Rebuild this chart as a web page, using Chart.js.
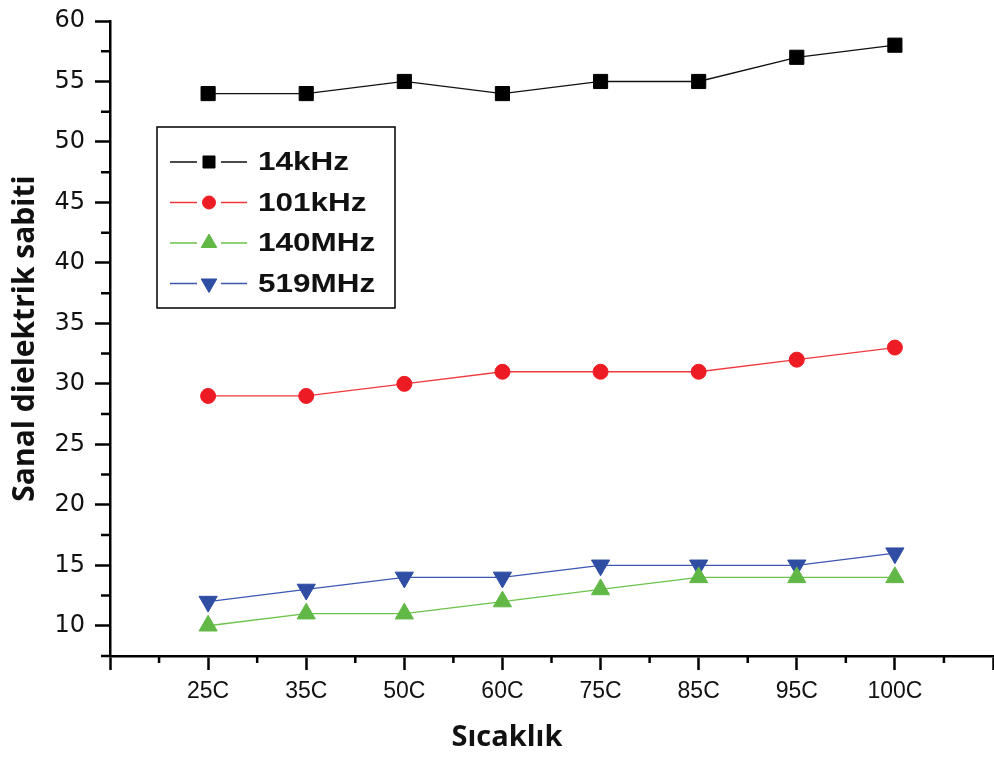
<!DOCTYPE html>
<html>
<head>
<meta charset="utf-8">
<script src="https://cdn.jsdelivr.net/npm/chart.js@4/dist/chart.umd.min.js"></script>
<style>
  html, body { margin: 0; padding: 0; background: #fff; }
  #wrap { width: 994px; height: 758px; position: relative; }
</style>
</head>
<body>
<div id="wrap"><canvas id="chart" width="994" height="758"></canvas></div>
<script>
const categories = ['25C', '35C', '50C', '60C', '75C', '85C', '95C', '100C'];
const seriesNames = ['14kHz', '101kHz', '140MHz', '519MHz'];
const s14kHz = [54, 54, 55, 54, 55, 55, 57, 58];
const s101kHz = [29, 29, 30, 31, 31, 31, 32, 33];
const s140MHz = [10, 11, 11, 12, 13, 14, 14, 14];
const s519MHz = [12, 13, 14, 14, 15, 15, 15, 16];
const yTicks = [10, 15, 20, 25, 30, 35, 40, 45, 50, 55, 60];
const yMin = 7.5, yMax = 60;
const xTitle = 'Sıcaklık';
const yTitle = 'Sanal dielektrik sabiti';

const toPts = arr => arr.map((v, i) => ({ x: i + 1, y: v }));

const styles = [
  { line: '#111111', fill: '#000000', shape: 'rect', r: 10, rot: 0 },
  { line: '#f0393f', fill: '#ed1c24', shape: 'circle', r: 7.5, rot: 0 },
  { line: '#6cc24a', fill: '#62b846', shape: 'triangle', r: 10.5, rot: 0 },
  { line: '#3b57b0', fill: '#2e4da3', shape: 'triangle', r: 10.5, rot: 180 }
];
const seriesData = [s14kHz, s101kHz, s140MHz, s519MHz];

const datasets = seriesData.map((d, i) => ({
  label: seriesNames[i],
  data: toPts(d),
  borderColor: styles[i].line,
  borderWidth: 1.3,
  backgroundColor: styles[i].fill,
  pointBackgroundColor: styles[i].fill,
  pointBorderColor: styles[i].fill,
  pointBorderWidth: 1,
  pointStyle: styles[i].shape,
  pointRadius: styles[i].r,
  pointRotation: styles[i].rot,
  tension: 0
}));

// minor ticks at the half steps
const minorTicks = {
  id: 'minorTicks',
  afterDraw(chart) {
    const { ctx, scales: { x, y }, chartArea } = chart;
    ctx.save();
    ctx.strokeStyle = '#000';
    ctx.lineWidth = 2.5;
    ctx.beginPath();
    for (let v = 0.5; v < categories.length + 1; v += 1) {
      const px = x.getPixelForValue(v);
      ctx.moveTo(px, chartArea.bottom);
      ctx.lineTo(px, chartArea.bottom + 7);
    }
    for (let v = yMin; v < yMax; v += 5) {
      const py = y.getPixelForValue(v);
      ctx.moveTo(chartArea.left, py);
      ctx.lineTo(chartArea.left - 9, py);
    }
    ctx.stroke();
    ctx.restore();
  }
};

// x title sits nearer the page centre than the axis centre
const xTitlePlugin = {
  id: 'xTitle',
  afterDraw(chart) {
    const { ctx, width, height } = chart;
    ctx.save();
    ctx.fillStyle = '#111';
    ctx.font = 'bold 29px "Open Sans", sans-serif';
    ctx.textAlign = 'center';
    ctx.textBaseline = 'middle';
    ctx.fillText(xTitle, width / 2 + 10, height - 20);
    ctx.restore();
  }
};

// boxed legend inside the plot
const boxLegend = {
  id: 'boxLegend',
  afterDraw(chart) {
    const { ctx, chartArea } = chart;
    const left = chartArea.left + 47, top = chartArea.top + 106;
    const w = 238, h = 181, rowH = 40.5;
    ctx.save();
    ctx.strokeStyle = '#000';
    ctx.lineWidth = 1.5;
    ctx.strokeRect(left, top, w, h);
    chart.data.datasets.forEach((ds, i) => {
      const cy = top + 35 + i * rowH;
      ctx.strokeStyle = ds.borderColor;
      ctx.lineWidth = 1.3;
      ctx.beginPath();
      ctx.moveTo(left + 13, cy); ctx.lineTo(left + 40, cy);
      ctx.moveTo(left + 64, cy); ctx.lineTo(left + 90, cy);
      ctx.stroke();
      ctx.fillStyle = ds.pointBackgroundColor;
      ctx.strokeStyle = ds.pointBorderColor;
      ctx.lineWidth = 1;
      Chart.helpers.drawPoint(ctx, {
        pointStyle: ds.pointStyle,
        radius: ds.pointStyle === 'rect' ? 8.5 : (ds.pointStyle === 'circle' ? 6.5 : 9),
        rotation: ds.pointRotation,
        borderWidth: 1
      }, left + 52, cy);
      ctx.save();
      ctx.translate(left + 101, cy);
      ctx.scale(1.21, 1);
      ctx.fillStyle = '#111';
      ctx.font = 'bold 26px "Liberation Sans", Arial, sans-serif';
      ctx.textBaseline = 'middle';
      ctx.fillText(ds.label, 0, 1);
      ctx.restore();
    });
    ctx.restore();
  }
};

new Chart(document.getElementById('chart').getContext('2d'), {
  type: 'line',
  data: { datasets },
  options: {
    responsive: false,
    animation: false,
    layout: { autoPadding: false, padding: { top: 21, right: 1, left: 0, bottom: 0 } },
    plugins: { legend: { display: false }, tooltip: { enabled: false } },
    scales: {
      x: {
        type: 'linear',
        min: 0,
        max: categories.length + 1,
        afterBuildTicks: s => { s.ticks = Array.from({ length: categories.length + 2 }, (_, i) => ({ value: i })); },
        afterFit: s => { s.height = 102; s.paddingLeft = 0; s.paddingRight = 0; },
        ticks: {
          autoSkip: false, maxRotation: 0, padding: 8, color: '#111',
          font: { family: '"Liberation Sans", Arial, sans-serif', size: 23 },
          callback: v => categories[v - 1] || ''
        },
        grid: { drawOnChartArea: false, drawTicks: true, tickLength: 14, tickWidth: 2.5, tickColor: '#000' },
        border: { display: true, color: '#000', width: 2.5 },
        title: { display: false }
      },
      y: {
        min: yMin,
        max: yMax,
        afterBuildTicks: s => { s.ticks = yTicks.map(v => ({ value: v })); },
        afterFit: s => { s.width = 110; s.paddingTop = 0; s.paddingBottom = 0; },
        ticks: {
          padding: 10, color: '#111',
          font: { family: '"DejaVu Sans", sans-serif', size: 24 }
        },
        grid: { drawOnChartArea: false, drawTicks: true, tickLength: 15, tickWidth: 2.5, tickColor: '#000' },
        border: { display: true, color: '#000', width: 2.5 },
        title: {
          display: true, text: yTitle, color: '#111',
          font: { family: '"Open Sans", sans-serif', size: 30, weight: 'bold' },
          padding: { top: 7, bottom: 0 }
        }
      }
    }
  },
  plugins: [minorTicks, boxLegend, xTitlePlugin]
});
</script>
</body>
</html>
